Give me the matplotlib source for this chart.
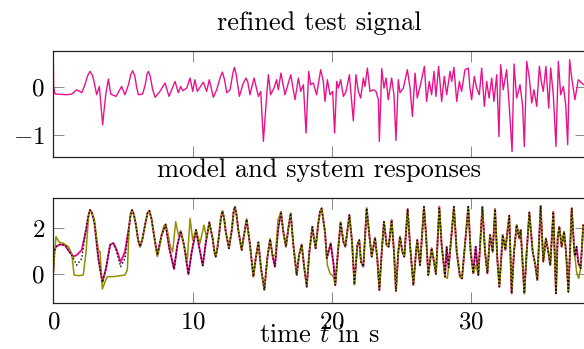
import matplotlib
matplotlib.use("Agg")
import matplotlib.pyplot as plt
import numpy as np

plt.rcParams["font.family"] = "serif"
plt.rcParams["font.serif"] = ["cmr10", "DejaVu Serif"]
plt.rcParams["mathtext.fontset"] = "cm"
plt.rcParams["axes.formatter.use_mathtext"] = True

MAGENTA = "#e8138b"
OLIVE = "#948f00"

# refined test signal (top)
sig_t = [0.0, 0.02, 0.12, 0.96, 1.32, 1.68, 2.04, 2.27, 2.45, 2.63, 2.80, 2.92, 3.11, 3.30,
         3.45, 3.54, 3.62, 3.76, 3.95, 4.12, 4.50, 4.90, 5.14, 5.40, 5.55, 5.69, 5.85, 5.97,
         6.10, 6.41, 6.60, 6.72, 6.82, 6.95, 7.12, 7.30, 7.65, 8.01, 8.30, 8.73,
         8.97, 9.14, 9.28, 9.57, 9.81, 10.0, 10.16, 10.33, 10.76, 11.0, 11.19, 11.48, 11.72,
         11.98, 12.13, 12.28, 12.44, 12.68, 12.88, 12.99, 13.12, 13.35, 13.60, 13.82, 13.95,
         14.11, 14.40, 14.71, 14.88, 15.07, 15.31,
         15.43, 15.59, 15.83, 16.02, 16.14, 16.33, 16.62, 17.03, 17.34, 17.58, 17.75, 17.94,
         18.13, 18.32, 18.46, 18.65, 18.89,
         19.18, 19.37, 19.49, 19.66, 19.85, 20.04, 20.18, 20.33, 20.45, 20.61, 20.81, 21.0,
         21.24, 21.40, 21.52, 21.71, 21.88, 22.05, 22.24, 22.36, 22.53, 22.72, 22.96, 23.15,
         23.32, 23.39, 23.56, 23.72, 23.87, 24.03, 24.27, 24.44, 24.58, 24.75, 24.87, 25.11,
         25.40, 25.59, 25.76, 25.95, 26.11, 26.31, 26.62, 26.78, 26.97, 27.14, 27.31, 27.45,
         27.64, 27.86, 28.05, 28.22, 28.46, 28.58, 28.74, 28.94, 29.13, 29.29, 29.53, 29.77,
         29.89, 30.01, 30.20, 30.37, 30.56, 30.73, 30.92, 31.09, 31.26, 31.45, 31.61, 31.81,
         31.97, 32.09, 32.28, 32.52, 32.71, 32.91, 33.05, 33.24, 33.48, 33.67, 33.79, 33.96,
         34.15, 34.32, 34.48, 34.68, 34.87, 35.01, 35.15, 35.34, 35.54, 35.68, 35.87, 36.06,
         36.23, 36.40, 36.59, 36.76, 36.90, 37.04, 37.19, 37.42, 37.66, 37.90, 38.07]
sig_v = [0.49, 0.0, -0.15, -0.166, -0.152, -0.062, -0.124, 0.041, 0.22, 0.317, 0.24, 0.11,
         -0.166, 0.006, -0.50, -0.787, -0.55, -0.166, 0.159, -0.152, -0.2, 0.006, -0.166, 0.05,
         0.25, 0.331, 0.22, 0.0, -0.166, -0.152, 0.05, 0.26, 0.317, 0.22, -0.05, -0.22,
         -0.097, 0.076, -0.2, 0.11, -0.124, 0.006, -0.083, -0.028, 0.18, -0.097, 0.145, -0.097,
         0.096, -0.097, 0.145, -0.22, -0.062, 0.20, 0.303, 0.15, -0.124, -0.062, 0.28, 0.4,
         0.25, -0.2, 0.05, 0.18, 0.10, -0.166,
         0.18, -0.2, -0.097, -1.13, -0.166, 0.248, -0.166, -0.028, 0.145, -0.062, 0.283, -0.166,
         0.248, -0.269, 0.18, -0.097, 0.041, -0.959, 0.317, 0.041, 0.076, -0.166,
         0.352, 0.11, -0.304, 0.145, -0.166, -0.097, -0.959, 0.11, -0.028, 0.145, -0.2, -0.097,
         0.248, -0.304, -0.704, 0.248, -0.097, -0.235, 0.18, 0.006, 0.386, -0.097, -0.062, -0.097,
         -0.269, -1.13, 0.373, -0.028, 0.18, -0.269, 0.18, -0.166, -1.11, 0.145, -0.124, -0.028,
         0.352, -0.028, -0.614, 0.283, -0.235, 0.006, 0.421, -0.304, 0.11, -0.166, 0.317, -0.2,
         0.421, -0.304, 0.214, -0.166, 0.317, 0.11, 0.4, -0.304, 0.11, -0.097, 0.352, 0.386,
         -0.028, -0.269, 0.214, -0.028, -0.166, 0.386, -0.407, 0.11, -0.235, 0.18, -0.304, 0.248,
         -1.03, 0.455, -0.062, 0.352, -0.407, -1.34, 0.469, -0.235, 0.041, -0.407, -1.235, 0.524,
         0.18, -0.338, -0.062, -0.407, 0.421, 0.11, -0.097, 0.421, -0.442, 0.386, -0.166, -1.235,
         0.524, -0.166, 0.006, -0.373, -1.2, 0.559, 0.18, -0.269, 0.145, 0.076, 0.041]

# system response (olive)
sys_t = [0.0, 0.19, 0.43, 0.72, 1.08, 1.32, 1.49, 1.80, 2.15, 2.35, 2.52, 2.63, 2.75, 2.92,
         3.23, 3.35, 3.52, 3.71, 3.88, 4.31, 5.14, 5.31, 5.45, 5.55, 5.65, 5.78, 5.93, 6.08,
         6.22, 6.38, 6.58, 6.75, 6.89, 7.05, 7.22, 7.46, 7.60, 7.77, 7.92, 8.06, 8.20, 8.37,
         8.56, 8.78, 8.97, 9.14, 9.45, 9.61, 9.81, 10.0, 10.24, 10.52, 10.81,
         11.0, 11.19, 11.43, 11.55, 11.65, 11.76, 11.89, 12.02, 12.13, 12.25, 12.37, 12.60,
         12.82, 12.93, 13.03, 13.14, 13.27, 13.51,
         13.68, 13.87, 14.11, 14.35, 14.52, 14.71, 14.90, 15.14, 15.35, 15.55, 15.74, 15.93,
         16.12, 16.33, 16.50, 16.69, 16.86, 17.03, 17.22, 17.46, 17.63, 17.82, 17.98, 18.18,
         18.37, 18.58, 18.70, 18.82, 18.99, 19.13,
         19.25, 19.49, 19.66, 19.85, 20.09, 20.23, 20.42, 20.61, 20.81, 20.95, 21.24, 21.43,
         21.60, 21.81, 21.95, 22.07, 22.24, 22.48, 22.67, 22.84, 23.08, 23.24, 23.39, 23.56,
         23.72, 23.91, 24.06, 24.27, 24.44, 24.58, 24.75, 24.87, 25.04, 25.18, 25.42, 25.59,
         25.83, 26.02, 26.11, 26.31, 26.59, 26.74, 26.90, 27.14, 27.31, 27.45, 27.69, 27.86,
         28.10, 28.27, 28.46, 28.74, 28.94, 29.17, 29.32, 29.53, 29.77, 29.94, 30.13, 30.32,
         30.49, 30.78, 30.97, 31.14, 31.33, 31.52, 31.69, 31.85, 32.0, 32.24, 32.43, 32.71,
         32.88, 33.05, 33.24, 33.43, 33.53, 33.79, 33.96, 34.15, 34.39, 34.58, 34.72, 34.96,
         35.15, 35.34, 35.51, 35.65, 35.87, 36.06, 36.18, 36.30, 36.47, 36.64, 36.78, 36.95,
         37.19, 37.38, 37.54, 37.69, 37.83, 38.02]
sys_v = [0.11, 1.64, 1.39, 1.35, 1.20, 0.91, -0.03, -0.06, -0.03, 0.98, 2.45, 2.80, 2.70, 2.43,
         1.06, 0.98, -0.64, -0.32, -0.10, -0.10, -0.03, 0.19, 2.14, 2.62, 2.80, 2.60, 2.14, 1.50,
         1.20, 1.50, 2.14, 2.65, 2.77, 2.40, 1.71, 0.77, 1.10, 1.71, 2.10, 2.17, 1.85, 1.27,
         0.98, 2.29, 1.71, 1.85, 1.06, 0.62, 2.43, 1.49, 1.93, 1.35, 2.14,
         1.56, 2.26, 1.56, 1.00, 0.77, 1.10, 1.71, 2.45, 2.75, 2.45, 1.85, 1.13,
         2.0, 2.70, 2.94, 2.60, 1.93, 1.06,
         1.71, 2.39, 1.27, -0.10, 0.69, 1.39, 0.26, -0.68, 0.69, 1.53, 0.77, 0.84,
         2.36, 2.72, 1.85, 1.20, 2.0, 2.65, 1.27, -0.03, 0.84, 1.30, 0.40, -0.54,
         0.98, 2.07, 1.56, 1.13, 2.14, 2.72,
         2.87, 1.85, 0.40, 0.04, -0.10, -0.47, 0.98, 2.26, 1.42, 1.20, 2.58, 1.42,
         -0.44, 1.27, 1.49, 0.55, 0.33, 2.87, 1.71, 0.77, 1.59, 0.69, -0.68, 0.98,
         2.29, 1.27, 1.20, 2.36, 0.98, -0.73, 0.98, 1.64, 0.98, 0.77, 2.84, 1.27,
         -0.47, 0.98, 1.49, 0.40, 2.94, 1.71, -0.03, 1.13, 0.55, 0.0, 2.94, 1.27,
         -0.10, -0.18, 0.98, 2.94, 0.98, -0.10, -0.18, 1.27, 2.94, 0.98, 0.04, 0.40,
         -0.03, 2.94, 0.98, 0.04, 1.71, 0.98, 2.84, 0.69, -0.54, 1.71, 1.06, 2.55,
         -0.83, 0.98, 2.14, 1.56, 1.93, -0.83, 0.98, 2.69, 0.98, 0.40, -0.25, 2.98,
         0.55, 1.56, 0.98, 0.40, 2.72, -0.83, 1.56, 2.07, 1.20, 1.85, 0.98, -0.76,
         2.87, 0.98, 0.11, -0.18, 0.26, 2.14]

# model response (magenta): own start, then follows the system with local bumps
mdl_start_t = [0.0, 0.05, 0.19, 0.48, 0.84, 1.15, 1.44, 1.68, 2.04, 2.35, 2.50, 2.63, 2.76,
               2.94, 3.23, 3.52, 3.78, 4.07, 4.19, 4.31, 4.55, 4.83, 5.14, 5.45, 5.55, 5.65,
               5.78, 5.93, 6.08, 6.22, 6.38, 6.58, 6.75, 6.89, 7.05, 7.22, 7.46, 7.77, 8.06,
               8.32, 8.66, 8.90, 9.14, 9.38, 9.69, 9.93, 10.24, 10.48, 10.72, 10.95, 11.19]
mdl_start_v = [0.11, 0.98, 1.20, 1.30, 1.27, 0.98, 0.77, 0.84, 1.06, 1.93, 2.50, 2.80, 2.70,
               2.29, 0.69, -0.35, 0.26, 1.27, 1.33, 1.35, 1.06, 0.52, 0.98, 2.14, 2.62, 2.80,
               2.60, 2.14, 1.50, 1.20, 1.50, 2.14, 2.65, 2.77, 2.40, 1.71, 0.84, 1.71, 2.17,
               1.13, 0.23, 1.27, 1.88, 1.27, 0.0, 0.98, 1.93, 1.13, 0.38, 1.42, 2.26]
mdl_bumps = [
    ([15.80, 15.90, 16.12], [0.60, 0.33, 1.93]),
    ([19.62, 19.90, 20.10, 20.20], [0.70, 1.35, 0.45, -0.30]),
    ([28.12, 28.22, 28.36], [0.15, 1.20, 0.30]),
    ([30.16, 30.30, 30.44], [0.30, 1.20, 0.25]),
    ([37.42, 37.54, 37.66, 37.80], [0.80, 1.20, 0.50, 0.30]),
]
# dotted reference: follows the model, except early on
ref_bumps = [
    ([1.30, 1.50, 1.68, 2.04, 2.30], [0.85, 0.62, 0.40, 0.69, 1.80]),
    ([4.40, 4.60, 4.83, 5.14], [1.25, 0.85, 0.33, 0.69]),
]


def patch(t, v, pt, pv):
    t = np.asarray(t)
    v = np.asarray(v)
    keep = (t < pt[0]) | (t > pt[-1])
    tt = np.concatenate([t[keep], pt])
    vv = np.concatenate([v[keep], pv])
    order = np.argsort(tt)
    return tt[order], vv[order]


sys_arr_t = np.array(sys_t)
sys_arr_v = np.array(sys_v)
tail = sys_arr_t > mdl_start_t[-1]
mdl_t = np.concatenate([mdl_start_t, sys_arr_t[tail]])
mdl_v = np.concatenate([mdl_start_v, sys_arr_v[tail]])
for pt, pv in mdl_bumps:
    mdl_t, mdl_v = patch(mdl_t, mdl_v, pt, pv)
ref_t, ref_v = mdl_t, mdl_v
for pt, pv in ref_bumps:
    ref_t, ref_v = patch(ref_t, ref_v, pt, pv)


def style(ax):
    for sp in ax.spines.values():
        sp.set_linewidth(0.9)
        sp.set_color("#222222")
    ax.tick_params(direction="in", length=8, width=0.7, color="#888888",
                   top=True, right=True, labelsize=18, pad=6)
    ax.set_xlim(0, 38.18)
    ax.set_xticks([0, 10, 20, 30])


fig = plt.figure(figsize=(5.84, 3.49), dpi=100)
ax1 = fig.add_axes([0.0913, 0.550, 0.9113, 0.304])
ax2 = fig.add_axes([0.0913, 0.131, 0.9113, 0.303])

ax1.plot(sig_t, sig_v, color=MAGENTA, lw=1.0, solid_joinstyle="round")
style(ax1)
ax1.set_ylim(-1.455, 0.74)
ax1.set_yticks([-1, 0])
ax1.tick_params(labelbottom=False)
ax1.set_title("refined test signal", fontsize=19, pad=15)

ax2.plot(mdl_t, mdl_v, color=MAGENTA, lw=1.4, solid_joinstyle="round")
ax2.plot(sys_t, sys_v, color=OLIVE, lw=1.1, solid_joinstyle="round")
ax2.plot(ref_t, ref_v, color="black", lw=1.0, dashes=(1, 1.6))
style(ax2)
ax2.set_ylim(-1.26, 3.34)
ax2.set_yticks([0, 2])
ax2.set_title("model and system responses", fontsize=19, pad=15)
ax2.set_xlabel(r"time $t$ in s", fontsize=19)
ax2.xaxis.set_label_coords(0.5, -0.19)

fig.savefig("out.png", dpi=100)
